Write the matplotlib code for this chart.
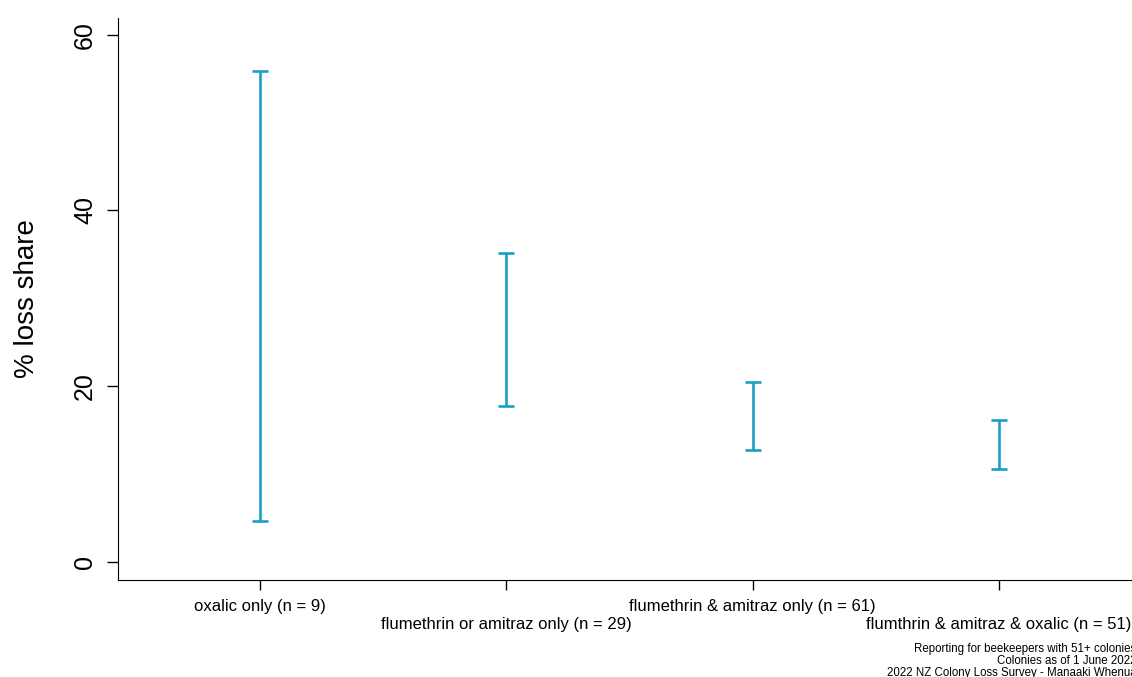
import numpy as np
import matplotlib
matplotlib.use('Agg')
import matplotlib.pyplot as plt

plt.rcParams['font.family'] = ['Liberation Sans', 'DejaVu Sans']

# Data
categories = ['oxalic only (n = 9)',
              'flumethrin or amitraz only (n = 29)',
              'flumethrin & amitraz only (n = 61)',
              'flumthrin & amitraz & oxalic (n = 51)']
lower = [4.7, 17.7, 12.7, 10.6]
upper = [55.9, 35.2, 20.5, 16.2]
footer = ['Reporting for beekeepers with 51+ colonies',
          'Colonies as of 1 June 2022',
          '2022 NZ Colony Loss Survey - Manaaki Whenua']

color = '#1a9fc4'

fig = plt.figure(figsize=(11.32, 6.77), dpi=100)
ax = fig.add_axes([0.1042, 0.1433, 0.8958, 0.8301])

x = np.arange(1, len(categories) + 1)
lo = np.array(lower)
hi = np.array(upper)
mid = (lo + hi) / 2
ax.errorbar(x, mid, yerr=[mid - lo, hi - mid], fmt='none', ecolor=color,
            elinewidth=1.9, capsize=6, capthick=1.9)

ax.set_xlim(0.424, 4.54)
ax.set_ylim(-2.05, 61.9)
ax.set_yticks([0, 20, 40, 60])
ax.set_yticklabels(['0', '20', '40', '60'], rotation=90, va='center', fontsize=18)
ax.tick_params(axis='y', length=8, width=1, pad=7)
ax.set_ylabel('% loss share', fontsize=20, labelpad=24)

ax.set_xticks(x)
ax.set_xticklabels([])
ax.tick_params(axis='x', length=7, width=1)
for i, lab in enumerate(categories):
    yoff = -0.048 if i % 2 == 0 else -0.080
    ax.text(x[i], yoff, lab, transform=ax.get_xaxis_transform(),
            ha='center', va='center', fontsize=12)

ax.spines['top'].set_visible(False)
ax.spines['right'].set_visible(False)

for j, line in enumerate(footer):
    fig.text(1.004, 1 - (649 + 12 * j) / 677, line, ha='right', va='center',
             fontsize=8.3)

fig.savefig('out.png', dpi=100)
